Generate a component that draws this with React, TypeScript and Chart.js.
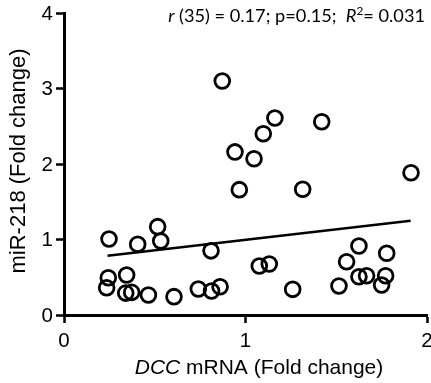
import React, { useEffect, useRef } from "react";
import { Chart, registerables } from "chart.js";

Chart.register(...registerables);

// DCC mRNA (fold change) for each sample
const dccValues = [
  0.248, 0.406, 0.516, 0.533, 0.81, 0.244, 0.235, 0.345, 0.34, 0.373, 0.465, 0.606,
  0.74, 0.813, 0.86, 1.076, 1.131, 1.26, 1.515, 1.557, 1.625, 1.625, 1.667, 1.778,
  1.772, 1.75, 0.872, 1.162, 1.42, 1.098, 0.942, 1.047, 1.912, 0.966, 1.315,
];
// miR-218 (fold change) for each sample
const mirValues = [
  1.007, 0.936, 1.17, 0.98, 0.85, 0.494, 0.36, 0.53, 0.29, 0.3, 0.265, 0.243,
  0.344, 0.318, 0.375, 0.65, 0.675, 0.34, 0.384, 0.706, 0.914, 0.507, 0.52, 0.817,
  0.52, 0.397, 3.1, 2.61, 2.56, 2.4, 2.16, 2.07, 1.885, 1.66, 1.665,
];
// linear regression
const fitIntercept = 0.718;
const fitSlope = 0.278;
const fitRangeX = [0.24, 1.91];

const xTicks = [0, 1, 2];
const yTicks = [0, 1, 2, 3, 4];

const yTitle = "miR-218 (Fold change)";
const xTitleItalic = "DCC";
const xTitleRest = " mRNA (Fold change)";
const statsText = {
  r: "r",
  rRest: " (35) = 0.17; p=0.15;  ",
  R: "R",
  sup: "2",
  Rrest: "= 0.031",
};

export default function App() {
  const ref = useRef<HTMLCanvasElement | null>(null);

  useEffect(() => {
    document.body.style.margin = "0";
    const canvas = ref.current!;
    const points = dccValues.map((x, i) => ({ x, y: mirValues[i] }));
    const fit = fitRangeX.map((x) => ({ x, y: fitIntercept + fitSlope * x }));
    const sans = '"Liberation Sans", Arial, sans-serif';

    const textPlugin = {
      id: "texts",
      afterDraw(chart: any) {
        const ctx = chart.ctx as CanvasRenderingContext2D;
        const xs = chart.scales.x;
        const ys = chart.scales.y;
        ctx.save();
        ctx.fillStyle = "#000";
        ctx.font = `20.5px ${sans}`;
        ctx.textAlign = "right";
        ctx.textBaseline = "middle";
        yTicks.forEach((v) => ctx.fillText(String(v), 53, ys.getPixelForValue(v) + 1));
        ctx.textAlign = "center";
        ctx.textBaseline = "top";
        xTicks.forEach((v) => ctx.fillText(String(v), xs.getPixelForValue(v), 331));

        // x title
        ctx.textBaseline = "alphabetic";
        ctx.textAlign = "left";
        const xf = 21;
        ctx.font = `italic ${xf}px ${sans}`;
        const w1 = ctx.measureText(xTitleItalic).width;
        ctx.font = `${xf}px ${sans}`;
        const w2 = ctx.measureText(xTitleRest).width;
        const sx = 259 - (w1 + w2) / 2;
        ctx.font = `italic ${xf}px ${sans}`;
        ctx.fillText(xTitleItalic, sx, 374);
        ctx.font = `${xf}px ${sans}`;
        ctx.fillText(xTitleRest, sx + w1, 374);

        // y title
        ctx.save();
        ctx.translate(25, 161);
        ctx.rotate(-Math.PI / 2);
        ctx.textAlign = "center";
        ctx.font = `22px ${sans}`;
        ctx.fillText(yTitle, 0, 0);
        ctx.restore();

        // stats annotation
        const fam = 'Lato, "Open Sans", sans-serif';
        const fs = 18.2;
        const parts = [
          { t: statsText.r, f: `italic ${fs}px ${fam}`, dy: 0 },
          { t: statsText.rRest, f: `${fs}px ${fam}`, dy: 0 },
          { t: statsText.R, f: `italic ${fs}px ${fam}`, dy: 0 },
          { t: statsText.sup, f: `${fs * 0.65}px ${fam}`, dy: -7 },
          { t: statsText.Rrest, f: `${fs}px ${fam}`, dy: 0 },
        ];
        let total = 0;
        parts.forEach((p) => {
          ctx.font = p.f;
          total += ctx.measureText(p.t).width;
        });
        let px = 425 - total;
        ctx.textAlign = "left";
        parts.forEach((p) => {
          ctx.font = p.f;
          ctx.fillText(p.t, px, 22 + p.dy);
          px += ctx.measureText(p.t).width;
        });
        ctx.restore();
      },
    };

    const axisCommon = {
      type: "linear" as const,
      ticks: { display: false, stepSize: 1 },
      grid: {
        drawOnChartArea: false,
        drawTicks: true,
        tickLength: 8,
        tickWidth: 2.5,
        tickColor: "#000",
        color: "#000",
      },
      border: { display: true, color: "#000", width: 3 },
      title: { display: false },
    };

    const chart = new Chart(canvas, {
      type: "scatter",
      data: {
        datasets: [
          {
            type: "line",
            data: fit,
            borderColor: "#000",
            borderWidth: 2.5,
            pointRadius: 0,
            fill: false,
            order: 2,
          } as any,
          {
            type: "scatter",
            data: points,
            pointRadius: 7.4,
            pointHoverRadius: 7.4,
            borderWidth: 2.8,
            borderColor: "#000",
            backgroundColor: "rgba(0,0,0,0)",
            order: 1,
          },
        ],
      },
      options: {
        responsive: false,
        animation: false,
        events: [],
        layout: { autoPadding: false, padding: { top: 13, right: 4, left: 0, bottom: 0 } },
        plugins: { legend: { display: false }, tooltip: { enabled: false } },
        scales: {
          x: {
            ...axisCommon,
            min: xTicks[0],
            max: xTicks[xTicks.length - 1],
            afterFit: (s: any) => {
              s.height = 68;
            },
          },
          y: {
            ...axisCommon,
            min: yTicks[0],
            max: yTicks[yTicks.length - 1],
            afterFit: (s: any) => {
              s.width = 64;
            },
          },
        },
      },
      plugins: [textPlugin],
    } as any);
    return () => chart.destroy();
  }, []);

  return (
    <div style={{ width: 431, height: 383, overflow: "hidden", background: "#fff" }}>
      <canvas ref={ref} width={431} height={383} style={{ display: "block" }} />
    </div>
  );
}
